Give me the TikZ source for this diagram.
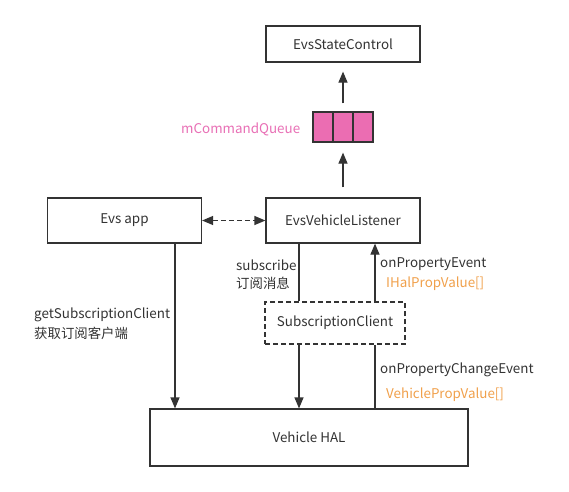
\documentclass[tikz,border=0pt]{standalone}
\usepackage{fontspec}
\setmainfont{Noto Sans CJK SC}
\usetikzlibrary{arrows.meta}
\definecolor{ink}{HTML}{333333}
\definecolor{qpink}{HTML}{EB6DB2}
\definecolor{tpink}{HTML}{E86FB5}
\definecolor{torange}{HTML}{F0A04B}
\tikzset{
  box/.style={draw=ink, line width=1.2pt, fill=white, minimum width=#1, inner sep=0pt, font=\fontsize{13.4}{15}\selectfont, text=ink},
  conn/.style={draw=ink, line width=1.2pt},
  tip/.tip={Triangle[length=11pt,width=9pt]},
  arr/.style={conn, -tip},
  lbl/.style={anchor=west, inner sep=0pt, font=\fontsize{13.4}{15}\selectfont, text=ink, align=left},
}
\begin{document}
\begin{tikzpicture}[x=1pt,y=-1pt]
\useasboundingbox (0,0) rectangle (569,491);
\node[box=154pt, minimum height=36pt] (esc) at (343,44) {EvsStateControl};
\node[draw=ink, line width=1.2pt, fill=qpink, minimum width=60pt, minimum height=30pt, inner sep=0pt] (queue) at (343,127) {};
\draw[ink, line width=1.2pt] (333,112) -- (333,142) (353,112) -- (353,142);
\node[box=154pt, minimum height=45pt] (lis) at (343,220.5) {EvsVehicleListener};
\node[box=154pt, minimum height=45pt] (app) at (124.5,220.5) {Evs app};
\node[box=140pt, minimum height=42pt, dashed, dash pattern=on 5pt off 3pt] (sub) at (335,323) {SubscriptionClient};
\node[box=318pt, minimum height=57pt] (hal) at (309,437.5) {Vehicle HAL};

\node[lbl, text=tpink] (qlabel) at (181,129) {mCommandQueue};
\node[lbl] (l1) at (236,265) {subscribe};
\node[lbl] (l2) at (236,283) {订阅消息};
\node[lbl] (l3) at (34,315) {getSubscriptionClient};
\node[lbl] (l4) at (34,333) {获取订阅客户端};
\node[lbl] (l5) at (380,264) {onPropertyEvent};
\node[lbl, text=torange] (l6) at (386,284) {IHalPropValue[]};
\node[lbl] (l7) at (380,370) {onPropertyChangeEvent};
\node[lbl, text=torange] (l8) at (386,395) {VehiclePropValue[]};

\draw[arr, shorten <=8pt, shorten >=9pt] (queue.north) -- (esc.south);
\draw[arr, shorten <=10pt, shorten >=10pt] (lis.north) -- (queue.south);
\draw[conn, dashed, dash pattern=on 5pt off 3pt, tip-tip] (app.east) -- (lis.west);
\draw[arr] (app.south -| 175,0) -- (hal.north -| 175,0);
\draw[conn] (lis.south -| 299,0) -- (sub.north -| 299,0);
\draw[arr] (sub.north -| 375,0) -- (lis.south -| 375,0);
\draw[arr] (sub.south -| 299,0) -- (hal.north -| 299,0);
\draw[conn] (hal.north -| 375,0) -- (sub.south -| 375,0);
\end{tikzpicture}
\end{document}
